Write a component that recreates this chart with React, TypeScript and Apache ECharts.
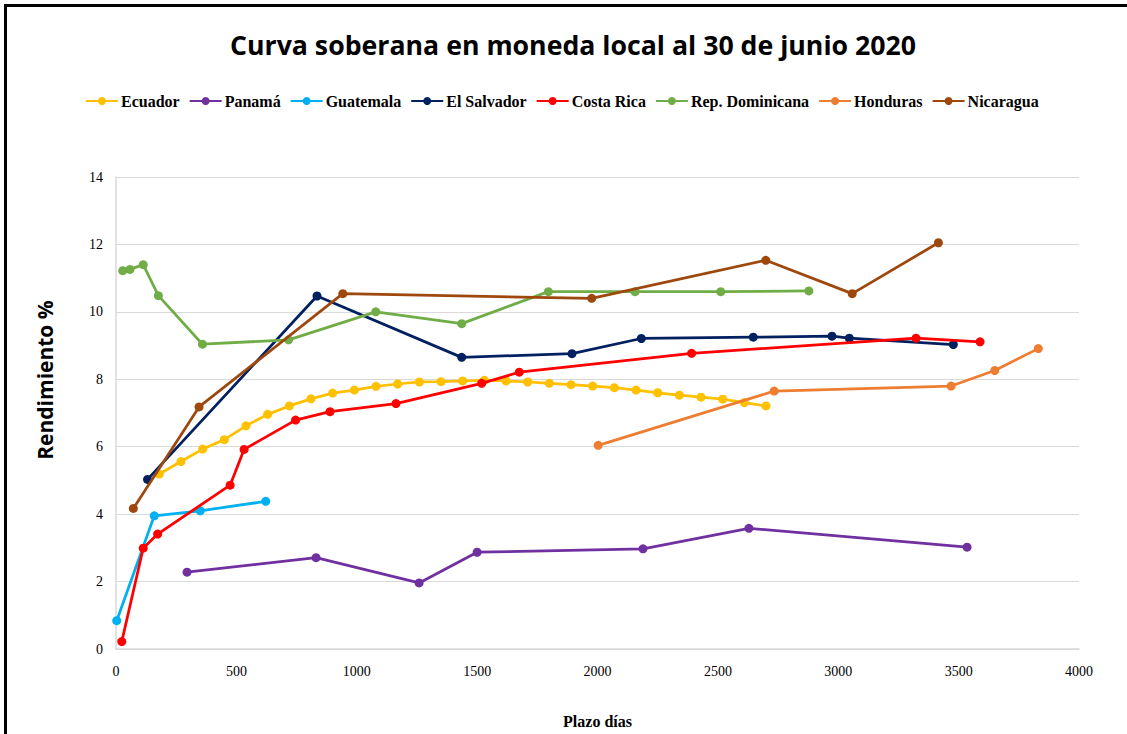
import React, { useEffect, useRef } from "react";
import * as echarts from "echarts";

const seriesNames = ["Ecuador", "Panamá", "Guatemala", "El Salvador", "Costa Rica", "Rep. Dominicana", "Honduras", "Nicaragua"];
const colors = ["#FFC000", "#7030A0", "#00B0F0", "#002060", "#FF0000", "#70AD47", "#ED7D31", "#9E480E"];

const ecuador: [number, number][] = [
  [180, 5.19], [270, 5.56], [360, 5.93], [450, 6.21], [540, 6.62], [630, 6.96], [720, 7.21], [810, 7.42],
  [900, 7.59], [990, 7.68], [1080, 7.79], [1170, 7.86], [1260, 7.92], [1350, 7.93], [1440, 7.95], [1530, 7.97],
  [1620, 7.95], [1710, 7.92], [1800, 7.88], [1890, 7.84], [1980, 7.8], [2070, 7.75], [2160, 7.68], [2250, 7.6],
  [2340, 7.53], [2430, 7.47], [2520, 7.41], [2610, 7.31], [2700, 7.21],
];
const panama: [number, number][] = [
  [295, 2.28], [831, 2.71], [1259, 1.96], [1500, 2.87], [2189, 2.97], [2629, 3.58], [3535, 3.02],
];
const guatemala: [number, number][] = [
  [3, 0.84], [159, 3.95], [350, 4.1], [622, 4.38],
];
const elSalvador: [number, number][] = [
  [131, 5.03], [835, 10.47], [1436, 8.65], [1894, 8.76], [2182, 9.21], [2647, 9.25], [2974, 9.28], [3046, 9.22], [3478, 9.03],
];
const costaRica: [number, number][] = [
  [24, 0.22], [113, 2.99], [173, 3.41], [474, 4.86], [532, 5.92], [746, 6.79], [889, 7.04], [1163, 7.28],
  [1519, 7.88], [1675, 8.21], [2391, 8.77], [3323, 9.22], [3589, 9.11],
];
const repDominicana: [number, number][] = [
  [28, 11.22], [58, 11.26], [113, 11.4], [176, 10.48], [359, 9.04], [717, 9.17], [1079, 10.0], [1436, 9.65],
  [1796, 10.6], [2156, 10.6], [2512, 10.6], [2878, 10.62],
];
const honduras: [number, number][] = [
  [2003, 6.04], [2734, 7.65], [3469, 7.8], [3650, 8.26], [3831, 8.91],
];
const nicaragua: [number, number][] = [
  [72, 4.17], [345, 7.18], [942, 10.54], [1976, 10.4], [2699, 11.53], [3058, 10.54], [3416, 12.05],
];

const allData = [ecuador, panama, guatemala, elSalvador, costaRica, repDominicana, honduras, nicaragua];
const xTicks = [0, 500, 1000, 1500, 2000, 2500, 3000, 3500, 4000];
const yTicks = [0, 2, 4, 6, 8, 10, 12, 14];

export default function App() {
  const ref = useRef<HTMLDivElement>(null);
  useEffect(() => {
    document.body.style.margin = "0";
    const chart = echarts.init(ref.current!, undefined, { renderer: "svg" });
    chart.setOption({
      animation: false,
      backgroundColor: "#ffffff",
      title: {
        text: "Curva soberana en moneda local al 30 de junio 2020",
        left: 568,
        textAlign: "center",
        top: 26,
        textStyle: { fontFamily: "Open Sans", fontWeight: "bold", fontSize: 26.7, color: "#000" },
      },
      legend: {
        top: 88,
        left: 80,
        itemWidth: 32,
        itemHeight: 10,
        itemGap: 9,
        data: seriesNames,
        textStyle: { fontFamily: "Liberation Serif", fontWeight: "bold", fontSize: 16, color: "#000", padding: [0, 0, 0, -2] },
      },
      graphic: [
        {
          type: "rect",
          shape: { x: 5.5, y: 5.5, width: 1140, height: 760 },
          style: { fill: "none", stroke: "#000", lineWidth: 3 },
          silent: true,
        },
        {
          type: "text",
          x: 45,
          y: 380,
          rotation: Math.PI / 2,
          style: {
            text: "Rendimiento %",
            fontFamily: "Open Sans",
            fontWeight: "bold",
            fontSize: 21,
            fill: "#000",
            align: "center",
            verticalAlign: "middle",
          },
          silent: true,
        },
      ],
      grid: { left: 116, right: 48, top: 177, bottom: 80 },
      xAxis: {
        type: "value",
        min: xTicks[0],
        max: xTicks[xTicks.length - 1],
        interval: 500,
        name: "Plazo días",
        nameLocation: "middle",
        nameGap: 64,
        nameTextStyle: { fontFamily: "Liberation Serif", fontWeight: "bold", fontSize: 16, color: "#000" },
        axisLine: { show: true, lineStyle: { color: "#d9d9d9", width: 1.5 } },
        axisTick: { show: false },
        splitLine: { show: false },
        axisLabel: { fontFamily: "Liberation Serif", fontSize: 14, color: "#000", margin: 15, formatter: (v: number) => String(v) },
      },
      yAxis: {
        type: "value",
        min: yTicks[0],
        max: yTicks[yTicks.length - 1],
        interval: 2,
        axisLine: { show: true, lineStyle: { color: "#d9d9d9", width: 1.5 } },
        axisTick: { show: false },
        splitLine: { show: true, lineStyle: { color: "#d9d9d9", width: 1.2 } },
        axisLabel: { fontFamily: "Liberation Serif", fontSize: 14, color: "#000", margin: 13 },
      },
      series: seriesNames.map((name, i) => ({
        name,
        type: "line",
        data: allData[i],
        color: colors[i],
        symbol: "circle",
        symbolSize: 9,
        lineStyle: { width: 2.75, color: colors[i] },
        itemStyle: { color: colors[i] },
        z: 2 + i,
      })),
    });
    return () => chart.dispose();
  }, []);
  return <div ref={ref} style={{ width: 1127, height: 734, position: "absolute", left: 0, top: 0 }} />;
}
